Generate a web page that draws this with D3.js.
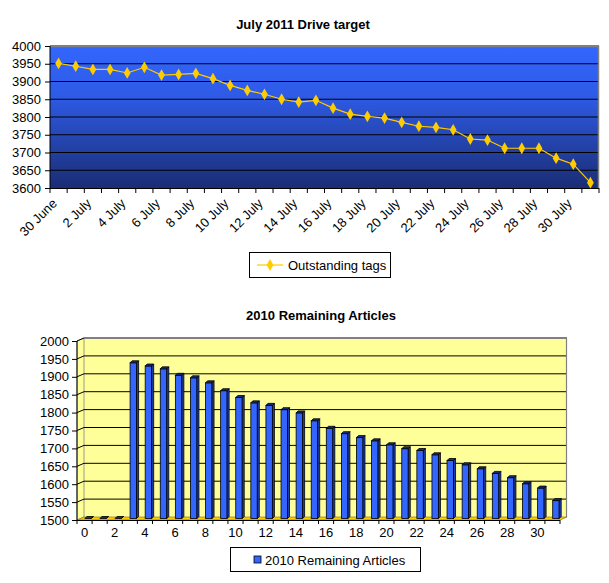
<!DOCTYPE html>
<html><head><meta charset="utf-8">
<script src="https://cdn.jsdelivr.net/npm/d3@7"></script>
<style>
html,body{margin:0;padding:0;background:#fff;}
svg text{font-family:"Liberation Sans",Arial,sans-serif;fill:#000;}
</style></head>
<body>
<svg id="c" width="609" height="583"></svg>
<script>
// ---- Data ----
const dateLabels = ["30 June","1 July","2 July","3 July","4 July","5 July","6 July","7 July","8 July","9 July","10 July","11 July","12 July","13 July","14 July","15 July","16 July","17 July","18 July","19 July","20 July","21 July","22 July","23 July","24 July","25 July","26 July","27 July","28 July","29 July","30 July","31 July"];
const outstandingTags = [3951,3943,3934,3934,3924,3940,3918,3920,3923,3908,3889,3875,3864,3850,3842,3847,3825,3808,3802,3797,3785,3774,3771,3764,3738,3735,3712,3712,3712,3684,3667,3615];
const topTicks = [3600,3650,3700,3750,3800,3850,3900,3950,4000];
const dayIndex = d3.range(0,32);
const remainingArticles = [0,0,0,1935,1926,1918,1900,1893,1879,1857,1838,1823,1816,1804,1795,1773,1752,1737,1726,1717,1706,1695,1690,1678,1662,1650,1639,1626,1614,1597,1585,1550];
const bottomTicks = [1500,1550,1600,1650,1700,1750,1800,1850,1900,1950,2000];

const svg = d3.select("#c");
const defs = svg.append("defs");
const grad = defs.append("linearGradient").attr("id","bg").attr("x1",0).attr("y1",0).attr("x2",0).attr("y2",1);
grad.append("stop").attr("offset","0%").attr("stop-color","#3366ff");
grad.append("stop").attr("offset","35%").attr("stop-color","#2e5be6");
grad.append("stop").attr("offset","100%").attr("stop-color","#1a2d74");

// ---- Top chart ----
const tx = d3.scaleBand().domain(d3.range(dateLabels.length)).range([50,599]);
const ty = d3.scaleLinear().domain([3600,4000]).range([188,46]);
const gT = svg.append("g");
gT.append("text").attr("x",303).attr("y",29).attr("text-anchor","middle")
  .style("font-weight","bold").style("font-size","13px").text("July 2011 Drive target");
gT.append("rect").attr("x",50).attr("y",46).attr("width",549).attr("height",142).attr("fill","url(#bg)");
gT.append("g").selectAll("line").data(topTicks.slice(1)).join("line")
  .attr("x1",50).attr("x2",599).attr("y1",d=>ty(d)).attr("y2",d=>ty(d))
  .attr("stroke","#000").attr("stroke-width",1);
gT.append("path").attr("d","M50,46.5H598.5V188").attr("fill","none").attr("stroke","#808080").attr("stroke-width",1.5);
// y axis
const yAxT = d3.axisLeft(ty).tickValues(topTicks).tickSize(5).tickPadding(4).tickFormat(d3.format("d"));
const gya = gT.append("g").attr("transform","translate(50,0)").call(yAxT);
gya.select(".domain").attr("stroke","#000").attr("d","M0,46V188");
gya.selectAll(".tick line").attr("stroke","#000");
gya.selectAll("text").style("font-size","13px").attr("font-family",null);
// x axis
const bounds = d3.range(0,dateLabels.length+1).map(k=>50+k*tx.step());
gT.append("line").attr("x1",50).attr("x2",599).attr("y1",188.5).attr("y2",188.5).attr("stroke","#000");
gT.append("g").selectAll("line").data(bounds).join("line")
  .attr("x1",d=>d).attr("x2",d=>d).attr("y1",188).attr("y2",193).attr("stroke","#000");
gT.append("g").selectAll("text").data(dayIndex.filter(i=>i%2===0)).join("text")
  .attr("transform",i=>`translate(${tx(i)+tx.bandwidth()/2-4},${201}) rotate(-45)`)
  .attr("text-anchor","end").attr("dy","0.35em").style("font-size","13px")
  .text(i=>dateLabels[i]);
// line + markers
const line = d3.line().x((d,i)=>tx(i)+tx.bandwidth()/2).y(d=>ty(d));
gT.append("path").datum(outstandingTags).attr("d",line).attr("fill","none").attr("stroke","#ffcc00").attr("stroke-width",1.2);
const diamond = d3.symbol().type(d3.symbolDiamond).size(40);
gT.append("g").selectAll("path").data(outstandingTags).join("path")
  .attr("transform",(d,i)=>`translate(${tx(i)+tx.bandwidth()/2},${ty(d)})`)
  .attr("d",diamond).attr("fill","#ffcc00");
// legend
gT.append("rect").attr("x",249.5).attr("y",252.5).attr("width",141).attr("height",25).attr("fill","#fff").attr("stroke","#000");
gT.append("line").attr("x1",257).attr("x2",283).attr("y1",265).attr("y2",265).attr("stroke","#ffcc00").attr("stroke-width",1.2);
gT.append("path").attr("transform","translate(270,265)").attr("d",diamond).attr("fill","#ffcc00");
gT.append("text").attr("x",288).attr("y",270).style("font-size","13px").text("Outstanding tags");

// ---- Bottom chart ----
const bx = d3.scaleBand().domain(dayIndex).range([84,567]);
const by = d3.scaleLinear().domain([1500,2000]).range([517,338]).clamp(true);
const DX=-7, DY=3;
const gB = svg.append("g");
gB.append("text").attr("x",321).attr("y",320).attr("text-anchor","middle")
  .style("font-weight","bold").style("font-size","13px").text("2010 Remaining Articles");
// back wall
gB.append("rect").attr("x",84).attr("y",338).attr("width",483).attr("height",179).attr("fill","#ffff99");
// side wall
gB.append("polygon").attr("points",`84,338 ${84+DX},${338+DY} ${84+DX},${517+DY} 84,517`).attr("fill","#ffff99").attr("stroke","#808080").attr("stroke-width",0.8);
// gridlines
gB.append("g").selectAll("path").data(bottomTicks.slice(1)).join("path")
  .attr("d",d=>`M${84+DX},${by(d)+DY}L84,${by(d)}H567`).attr("fill","none").attr("stroke","#000");
gB.append("path").attr("d","M84,338.5H566.5V517").attr("fill","none").attr("stroke","#808080").attr("stroke-width",1.2);
// floor
gB.append("polygon").attr("points",`84,517 567,517 ${567+DX},${517+DY} ${84+DX},${517+DY}`).attr("fill","#ffcc00").attr("stroke","#806600").attr("stroke-width",0.6);
// y axis (front plane)
const yAxB = d3.axisLeft(by.copy().range([517+DY,338+DY])).tickValues(bottomTicks).tickSize(5).tickPadding(3).tickFormat(d3.format("d"));
const gyb = gB.append("g").attr("transform",`translate(${84+DX},0)`).call(yAxB);
gyb.select(".domain").attr("stroke","#000").attr("d",`M0,${338+DY}V${517+DY}`);
gyb.selectAll(".tick line").attr("stroke","#000");
gyb.selectAll("text").style("font-size","13px").attr("font-family",null);
// x axis ticks (front plane)
gB.append("line").attr("x1",84+DX).attr("x2",567+DX).attr("y1",517+DY+0.5).attr("y2",517+DY+0.5).attr("stroke","#000");
gB.append("g").selectAll("line").data(d3.range(0,33)).join("line")
  .attr("x1",k=>84+k*bx.step()+DX).attr("x2",k=>84+k*bx.step()+DX)
  .attr("y1",517+DY).attr("y2",517+DY+4).attr("stroke","#000");
gB.append("g").selectAll("text").data(dayIndex.filter(i=>i%2===0)).join("text")
  .attr("x",i=>bx(i)+bx.bandwidth()/2+DX).attr("y",537).attr("text-anchor","middle")
  .style("font-size","13px").text(i=>i);
// bars
const BW=6.5, BD=2;
const bars = gB.append("g").selectAll("g").data(remainingArticles).join("g");
const fx = (d,i)=>bx(i)+bx.bandwidth()/2 + DX/2 - BW/2;
const ftop = d=>by(d)+DY/2;
const fbot = by(1500)+DY/2;
bars.append("rect").attr("x",fx).attr("y",d=>ftop(d)).attr("width",BW).attr("height",d=>fbot-ftop(d))
  .attr("fill","#3366ff").attr("stroke","#000").attr("stroke-width",0.8);
bars.append("polygon").attr("points",(d,i)=>{const x=fx(d,i),y=ftop(d);return `${x+BW},${y} ${x+BW+BD},${y-BD} ${x+BW+BD},${fbot-BD} ${x+BW},${fbot}`;})
  .attr("fill","#2040b0").attr("stroke","#000").attr("stroke-width",0.8);
bars.append("polygon").attr("points",(d,i)=>{const x=fx(d,i),y=ftop(d);return `${x},${y} ${x+BD},${y-BD} ${x+BW+BD},${y-BD} ${x+BW},${y}`;})
  .attr("fill","#1a2d80").attr("stroke","#000").attr("stroke-width",0.8);
// legend
gB.append("rect").attr("x",230.5).attr("y",547.5).attr("width",190).attr("height",24).attr("fill","#fff").attr("stroke","#000");
gB.append("rect").attr("x",254).attr("y",556).attr("width",7).attr("height",7).attr("fill","#3366ff").attr("stroke","#000").attr("stroke-width",0.8);
gB.append("text").attr("x",265).attr("y",564.5).style("font-size","13px").text("2010 Remaining Articles");
</script>
</body></html>
